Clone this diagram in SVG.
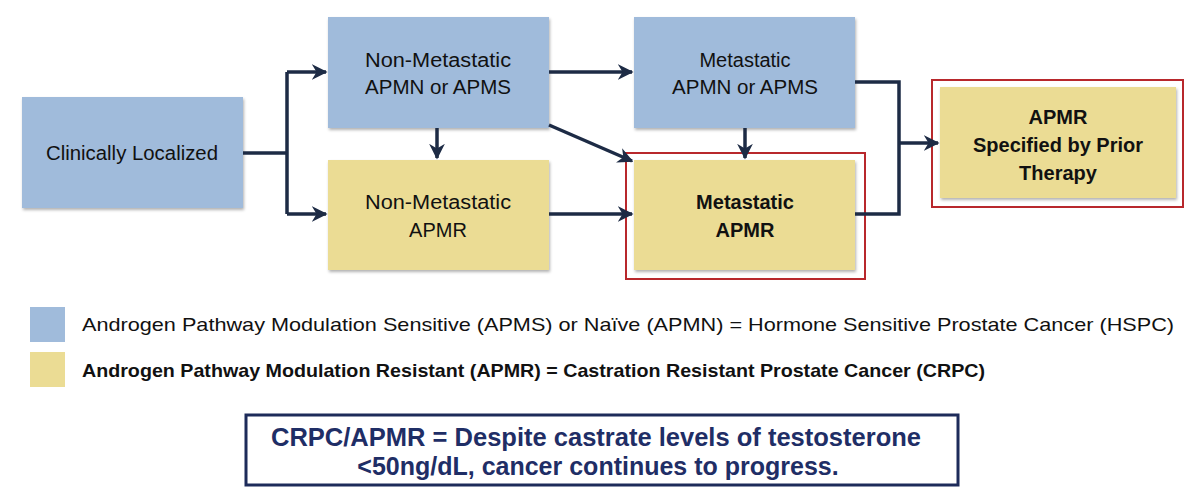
<svg xmlns="http://www.w3.org/2000/svg" width="1200" height="499" viewBox="0 0 1200 499">
<defs>
<style>
.b{fill:#a0bbdb}.y{fill:#ebdc94}
.t{font-family:"Liberation Sans",Arial,sans-serif;font-size:20px;fill:#111;text-anchor:middle}
.bd{font-weight:bold}
.red{fill:none;stroke:#b8282c;stroke-width:2}
.c{fill:none;stroke:#1d2b45;stroke-width:3.5}
.lg{font-family:"Liberation Sans",Arial,sans-serif;font-size:19px;fill:#111}
.nt{font-family:"Liberation Sans",Arial,sans-serif;font-size:25px;font-weight:bold;fill:#1f2e66;text-anchor:middle}
</style>
<marker id="a" viewBox="0 0 10 10" refX="9" refY="5" markerWidth="4.5" markerHeight="4.5" orient="auto"><path d="M0,0 L10,5 L0,10 L3,5 Z" fill="#1d2b45"/></marker>
<filter id="s"><feDropShadow dx="1" dy="2" stdDeviation="1.5" flood-opacity="0.3"/></filter>
</defs>
<rect width="1200" height="499" fill="#fff"/>
<g id="n1"><rect class="b" x="22" y="97" width="221" height="111" filter="url(#s)"/><text class="t" x="132" y="160" textLength="172" lengthAdjust="spacingAndGlyphs">Clinically Localized</text></g>
<g id="n2"><rect class="b" x="328" y="17" width="221" height="111" filter="url(#s)"/><text class="t" x="438" y="67" textLength="146" lengthAdjust="spacingAndGlyphs">Non-Metastatic</text><text class="t" x="438" y="94" textLength="146" lengthAdjust="spacingAndGlyphs">APMN or APMS</text></g>
<g id="n3"><rect class="y" x="328" y="160" width="221" height="110" filter="url(#s)"/><text class="t" x="438" y="209" textLength="146" lengthAdjust="spacingAndGlyphs">Non-Metastatic</text><text class="t" x="438" y="237">APMR</text></g>
<g id="n4"><rect class="b" x="634" y="17" width="221" height="111" filter="url(#s)"/><text class="t" x="745" y="67">Metastatic</text><text class="t" x="745" y="94" textLength="146" lengthAdjust="spacingAndGlyphs">APMN or APMS</text></g>
<g id="n5"><rect class="y" x="634" y="160" width="221" height="110" filter="url(#s)"/><rect class="red" x="626" y="153" width="239" height="126"/><text class="t bd" x="745" y="209">Metastatic</text><text class="t bd" x="745" y="237">APMR</text></g>
<g id="n6"><rect class="y" x="940" y="87" width="236" height="111" filter="url(#s)"/><rect class="red" x="932" y="80" width="251" height="127"/><text class="t bd" x="1058" y="124">APMR</text><text class="t bd" x="1058" y="152">Specified by Prior</text><text class="t bd" x="1058" y="180">Therapy</text></g>
<g id="connectors">
<path class="c" d="M243,153 H287 M287,72 V214"/>
<path class="c" d="M287,72 H326" marker-end="url(#a)"/>
<path class="c" d="M287,214 H326" marker-end="url(#a)"/>
<path class="c" d="M549,72 H632" marker-end="url(#a)"/>
<path class="c" d="M437,128 V158" marker-end="url(#a)"/>
<path class="c" d="M549,125 L632,161" marker-end="url(#a)"/>
<path class="c" d="M549,214 H632" marker-end="url(#a)"/>
<path class="c" d="M745,128 V158" marker-end="url(#a)"/>
<path class="c" d="M855,82 H899 V214 H855"/>
<path class="c" d="M899,143 H938" marker-end="url(#a)"/>
</g>
<g id="legend">
<rect class="b" x="30" y="307" width="35" height="35"/>
<rect class="y" x="30" y="352" width="35" height="35"/>
<text class="lg" x="82" y="331" textLength="1092" lengthAdjust="spacingAndGlyphs">Androgen Pathway Modulation Sensitive (APMS) or Naïve (APMN) = Hormone Sensitive Prostate Cancer (HSPC)</text>
<text class="lg bd" x="82" y="377" textLength="903" lengthAdjust="spacingAndGlyphs">Androgen Pathway Modulation Resistant (APMR) = Castration Resistant Prostate Cancer (CRPC)</text>
</g>
<g id="note">
<rect x="246" y="415" width="712" height="70" fill="#fff" stroke="#1d2b5a" stroke-width="3"/>
<text class="nt" x="596" y="446" textLength="650" lengthAdjust="spacingAndGlyphs">CRPC/APMR = Despite castrate levels of testosterone</text>
<text class="nt" x="598" y="475">&lt;50ng/dL, cancer continues to progress.</text>
</g>
</svg>
